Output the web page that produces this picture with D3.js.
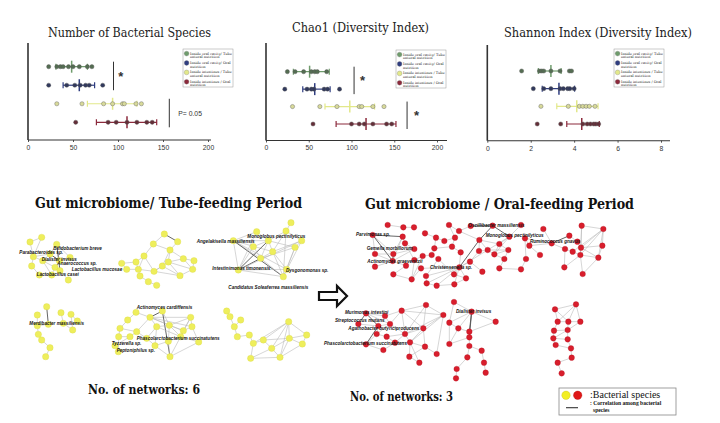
<!DOCTYPE html>
<html><head><meta charset="utf-8">
<script src="https://cdn.jsdelivr.net/npm/d3@7"></script>
<style>body{margin:0;background:#fff}svg{display:block}</style>
</head><body>
<svg id="c" width="720" height="423"></svg>
<script>
// ---------------- DATA ----------------
const groupNames = [
  ["Inside oral cavity/ Tube", "enteral nutrition"],
  ["Inside oral cavity/ Oral", "nutrition"],
  ["Inside intestines / Tube", "enteral nutrition"],
  ["Inside intestines / Oral", "nutrition"]
];
const groupColors = ["#6f9c6c", "#2f3d80", "#e2e88a", "#8c2a3c"];

const panelTitles = ["Number of Bacterial Species", "Chao1 (Diversity Index)", "Shannon Index (Diversity Index)"];
const speciesTicks = [0, 50, 100, 150, 200];
const chaoTicks = [0, 50, 100, 150, 200];
const shannonTicks = [0, 2, 4, 6, 8];

const speciesValues = [
  [23, 32, 36, 39, 45, 50, 57, 66, 71],
  [23, 43, 52, 58, 64, 68, 83],
  [32, 60, 84, 94, 105, 107, 120, 126],
  [53, 89, 98, 110, 121, 132, 138]
];
const speciesMeans = [48.5, 57, 94, 110];
const speciesErr = [[31, 66], [39, 74], [66, 121], [76, 143]];
const speciesSig = [[95, 0, 1, "*", 103], [157, 2, 3, "P= 0.05", 167]];

const chaoValues = [
  [25, 34, 44, 53, 57, 60, 71],
  [22, 48, 53, 56, 68, 72, 86],
  [31, 63, 83, 109, 112, 125, 138],
  [55, 100, 109, 115, 125, 141, 147]
];
const chaoMeans = [51, 57, 98, 117];
const chaoErr = [[32, 74], [43, 75], [69, 127], [82, 152]];
const chaoSig = [[103, 0, 1, "*", 113], [165, 2, 3, "*", 176]];

const shannonValues = [
  [1.58, 2.4, 2.5, 2.6, 2.93, 3.35, 3.78, 3.88],
  [2.12, 2.6, 2.93, 3.35, 3.5, 3.7, 3.8, 4.0],
  [2.47, 3.73, 4.24, 4.4, 4.55, 4.7, 4.96],
  [2.3, 3.38, 4.4, 4.6, 4.75, 4.9, 5.0, 5.13]
];
const shannonMeans = [2.93, 3.3, 4.12, 4.35];
const shannonErr = [[2.35, 3.4], [2.53, 4.02], [3.2, 5.1], [3.66, 5.16]];
const shannonSig = [];

// Network layouts (node positions in layout units), edges [i, j, strong]
const tubeNetworks = [
  { nodes: [[90,186],[125,172],[170,193],[100,230],[95,258],[150,222],[128,242],[178,242],[165,262],[118,285],[205,300],[180,272],[210,232],[155,285]],
    edges: [[0,1],[0,3],[1,3],[3,5],[3,6],[3,4],[5,6],[5,2],[2,7],[6,7],[7,8],[6,8],[8,11],[11,10],[7,12],[4,9],[9,13],[13,8],[5,7,1],[2,12],[6,13],[2,11,1]] },
  { nodes: [[493,162],[533,185],[460,192],[510,210],[432,228],[408,246],[365,250],[380,268],[462,274],[505,246],[550,236],[582,242],[578,268],[540,287],[420,288],[445,305],[470,316],[415,268],[487,258]],
    edges: [[0,1,1],[0,2],[1,3],[2,3],[2,4],[3,9],[3,10],[4,5],[4,8],[5,6],[5,17],[6,7],[7,17],[17,8],[8,9],[8,18],[9,18],[9,10],[10,11],[11,12],[10,12],[12,13],[9,13],[18,13],[14,15],[15,16],[4,17],[3,18],[8,13],[9,12],[17,14]] },
  { nodes: [[873,128],[858,153],[770,155],[700,182],[805,182],[905,182],[885,202],[818,215],[782,235],[715,270],[850,290],[860,268],[760,200]],
    edges: [[0,1],[1,4],[1,5],[2,4],[3,4],[3,8],[3,9],[3,10,1],[3,7],[4,7],[4,8],[4,6],[5,6],[5,7],[5,10],[6,10],[6,11],[7,8],[7,10],[7,11],[8,9,1],[8,10],[9,10],[9,11],[2,3],[4,9,1],[12,8],[12,4],[12,9],[1,7],[6,8],[3,11],[5,9],[2,9],[1,10]] },
  { nodes: [[140,380],[112,405],[183,398],[213,403],[232,423],[112,437],[145,433],[190,430],[218,450],[115,463],[125,480],[150,503],[137,530]],
    edges: [[0,6,1],[1,5],[5,9],[9,10],[10,11],[11,12],[2,7],[3,4],[3,8],[7,8],[6,5]] },
  { nodes: [[408,397],[450,412],[487,393],[572,412],[383,420],[360,445],[356,470],[390,470],[410,455],[470,440],[508,436],[550,452],[576,440],[465,497],[505,484],[542,470],[596,486],[510,530],[355,515],[345,497],[440,475]],
    edges: [[0,4],[0,1],[1,2,1],[1,9],[1,10],[1,3],[2,17,1],[3,12],[3,10],[3,11],[3,15],[4,5],[5,6],[5,8],[6,7],[7,8],[8,1],[8,20],[7,19],[19,18],[18,6],[9,10],[9,20],[9,13],[10,11],[10,14],[11,12],[11,15],[12,16],[13,14],[13,17],[14,15],[14,17],[15,16],[15,17],[16,17],[9,15],[10,15],[1,12],[20,13],[2,10],[1,11]] },
  { nodes: [[680,393],[690,410],[703,440],[722,420],[712,470],[748,465],[760,490],[790,480],[815,505],[840,532],[752,535],[866,425],[868,475],[907,492],[920,465]],
    edges: [[0,1],[1,2],[2,3],[2,4],[4,5],[5,6],[6,7],[6,10],[7,8],[8,9],[10,9],[7,11],[11,8],[11,12],[11,14],[12,13],[12,14],[13,14],[8,12],[9,12],[11,9],[6,11],[10,8],[7,12],[13,9]] }
];
const tubeLabels = [
  ["Bifidobacterium breve", 160, 210], ["Parabacteroides sp.", 58, 223], ["Dialister invisus", 125, 243],
  ["Anaerococcus sp.", 172, 256], ["Lactobacillus mucosae", 215, 274], ["Lactobacillus casei", 110, 288],
  ["Angelakisella massiliensis", 590, 190], ["Monoglobus pectinilyticus", 742, 175], ["Intestinimonas timonensis", 637, 270],
  ["Dysgonomonas sp.", 858, 276], ["Candidatus Soleaferrea massiliensis", 685, 328],
  ["Merdibacter massiliensis", 88, 436], ["Actinomyces cardiffensis", 410, 388],
  ["Phascolarctobacterium succinatutens", 410, 479], ["Tyzzerella sp.", 335, 495], ["Peptoniphilus sp.", 350, 515]
];

const oralNetworks = [
  { nodes: [[173,135],[220,142],[252,142],[128,165],[218,170],[285,160],[318,173],[343,183],[375,173],[357,135],[387,153],[225,190],[135,222],[190,222],[253,207],[313,205],[366,200],[392,217],[135,260],[188,243],[228,257],[253,240],[278,228],[325,237],[273,265],[190,283],[245,298],[288,288],[290,310],[320,317],[373,313],[408,295],[372,283],[388,262],[420,245],[447,213],[473,210],[448,180],[508,192],[535,210],[493,223],[523,237],[457,275],[508,265],[573,268],[588,237],[598,197],[585,175],[640,147],[630,225],[665,190],[718,167],[742,185],[705,207],[728,215],[753,203],[755,137],[820,147],[751,225],[817,197],[805,233],[703,262],[758,282],[488,137],[422,138],[573,135],[538,170],[305,225]],
    edges: [[3,4,1],[3,13],[3,19,1],[4,11],[4,13],[13,19,1],[12,13],[12,19],[11,14],[14,19],[19,20],[18,19],[4,19],[13,14],[3,12],[0,1],[1,2],[5,6],[6,7],[7,8],[8,9],[9,10],[10,64],[64,63,1],[10,37],[8,16],[16,17],[15,16],[15,6],[21,22],[22,67],[67,15],[21,26],[22,26],[23,27],[24,26],[27,28],[28,29],[29,30],[23,32],[32,33],[33,34],[34,35],[35,36],[33,17],[34,42],[36,39],[37,38],[38,39],[37,36],[35,37],[37,63,1],[63,66,1],[66,36],[66,38],[66,40],[40,41],[41,43],[43,44],[39,41],[39,40],[38,40],[45,44],[45,47],[47,46],[46,50],[50,48],[50,51,1],[47,50],[46,49],[50,53],[27,33],[28,33],[24,33],[29,33],[30,33],[31,33],[33,37,1],[33,36],[56,57],[56,58],[57,59],[57,55],[57,60],[57,58],[57,54],[55,58],[58,60],[59,60],[58,62],[54,58],[53,54],[53,61],[55,59],[62,60],[56,55],[61,58],[52,55],[51,52],[60,55],[65,66],[26,25],[20,25],[11,21],[32,31],[30,31],[36,40]] },
  { nodes: [[288,375],[215,392],[165,408],[108,400],[340,405],[85,432],[145,438],[180,432],[280,445],[225,462],[140,462],[170,470],[240,487],[195,488],[108,493],[160,510],[285,500],[320,522],[238,530],[268,548]],
    edges: [[0,1],[0,4],[0,8],[0,9],[1,2],[1,4],[1,8],[1,9],[1,7],[2,3],[3,5,1],[3,6,1],[3,7],[5,6],[6,7],[6,14,1],[6,10],[7,9],[8,9],[8,12],[8,16],[8,4],[9,12],[9,13],[9,11],[10,11],[11,13],[12,13],[12,16],[12,18],[16,17],[17,4],[18,19],[12,19],[13,15],[14,15],[14,10],[16,18],[4,9],[4,12],[7,10],[2,7]] },
  { nodes: [[372,366],[425,395],[358,428],[385,445],[418,455],[418,472],[497,425],[358,492],[418,498],[455,512],[412,532],[462,548],[380,567],[467,578],[378,595]],
    edges: [[0,1],[0,2],[1,2],[1,3],[1,4,1],[1,6],[2,3],[3,4],[4,5],[5,7],[5,8],[7,3],[8,9],[8,10],[9,11],[10,12],[11,13],[12,14],[1,5,1],[6,4],[2,7]] },
  { nodes: [[738,373],[675,388],[683,425],[715,425],[751,425],[672,452],[713,450],[670,475],[713,478],[677,495],[723,505],[725,533],[683,548],[695,580]],
    edges: [[0,1],[0,2],[0,3],[0,4],[1,2],[2,3],[3,4],[2,5],[3,6],[4,6],[5,6],[5,7],[6,8],[7,8],[7,9],[8,10],[9,10],[10,11],[11,12],[12,13],[1,3],[6,7]] }
];
const oralLabels = [
  ["Parvimonas sp.", 78, 168], ["Gemella morbillorum", 110, 211], ["Actinomyces graevenitzii", 112, 248],
  ["Christensenella sp.", 300, 266], ["Oscillibacter massiliensis", 415, 140], ["Monoglobus pectinilyticus", 467, 171],
  ["Ruminococcus gnavus", 600, 190], ["Murimonas intestini", 45, 401], ["Streptococcus mutans", 15, 426],
  ["Agathobacter butyriciproducens", 55, 449], ["Phascolarctobacterium succinatutens", -18, 496], ["Dialister invisus", 378, 398]
];
const networkCounts = ["No. of networks: 6", "No. of networks: 3"];
const sectionTitles = ["Gut microbiome/ Tube-feeding Period", "Gut microbiome / Oral-feeding Period"];

// ---------------- DRAW ----------------
const svg = d3.select("#c");
svg.append("rect").attr("width", 720).attr("height", 423).attr("fill", "#fff");
const serif = "'DejaVu Serif', 'Liberation Serif', serif";
const sans = "'Liberation Sans', Arial, sans-serif";

function dotPanel(cfg, title, values, means, errs, ticks, sig) {
  const g = svg.append("g");
  const x = d3.scaleLinear().domain([ticks[0], ticks[ticks.length - 1]]).range([cfg.x0, cfg.x1]);
  const y = d3.scalePoint().domain(d3.range(values.length)).range([cfg.r0, cfg.r1]);
  g.append("text").attr("x", cfg.tx).attr("y", cfg.ty).attr("text-anchor", "middle")
    .attr("font-family", serif).attr("font-size", 12.5).attr("fill", "#222")
    .attr("textLength", cfg.tw).attr("lengthAdjust", "spacingAndGlyphs").text(title);
  const ax = g.append("g").attr("transform", `translate(0,${cfg.axisY})`)
    .call(d3.axisBottom(x).tickValues(ticks).tickSize(2).tickPadding(3));
  ax.select(".domain").remove();
  ax.selectAll(".tick line").attr("stroke", "#555");
  ax.selectAll(".tick text").attr("font-family", sans).attr("font-size", 6.8).attr("fill", "#333");
  g.append("line").attr("x1", cfg.x0).attr("x2", cfg.axisEnd).attr("y1", cfg.axisY).attr("y2", cfg.axisY)
    .attr("stroke", "#333").attr("stroke-width", 1.1);
  g.append("line").attr("x1", cfg.x0).attr("x2", cfg.x0).attr("y1", cfg.yTop).attr("y2", cfg.axisY)
    .attr("stroke", "#333").attr("stroke-width", 1.6);
  values.forEach((vals, i) => {
    const c = groupColors[i], yy = y(i);
    const gg = g.append("g");
    gg.append("line").attr("x1", x(errs[i][0])).attr("x2", x(errs[i][1])).attr("y1", yy).attr("y2", yy)
      .attr("stroke", c).attr("stroke-width", 1.2);
    errs[i].forEach(e => gg.append("line").attr("x1", x(e)).attr("x2", x(e)).attr("y1", yy - 3).attr("y2", yy + 3)
      .attr("stroke", c).attr("stroke-width", 1.2));
    gg.append("line").attr("x1", x(means[i])).attr("x2", x(means[i])).attr("y1", yy - 6).attr("y2", yy + 6)
      .attr("stroke", c).attr("stroke-width", 1.5);
    const dotFill = i === 2 ? "#d8da9a" : d3.interpolateRgb(c, "#333")(0.45);
    gg.selectAll("circle").data(vals).join("circle")
      .attr("cx", d => x(d)).attr("cy", yy).attr("r", 2.1)
      .attr("fill", dotFill).attr("stroke", "#555").attr("stroke-width", 0.4);
  });
  sig.forEach(s => {
    const y1 = y(s[1]) - 5, y2 = y(s[2]) + 5;
    g.append("line").attr("x1", x(s[0])).attr("x2", x(s[0])).attr("y1", y1).attr("y2", y2)
      .attr("stroke", "#333").attr("stroke-width", 1);
    if (s[3] === "*") {
      g.append("text").attr("x", x(s[4])).attr("y", (y1 + y2) / 2 + 5).attr("text-anchor", "middle")
        .attr("font-family", sans).attr("font-weight", "bold").attr("font-size", 13).attr("fill", "#333").text("*");
    } else {
      g.append("text").attr("x", x(s[4])).attr("y", (y1 + y2) / 2 + 2.5)
        .attr("font-family", sans).attr("font-size", 6.8).attr("fill", "#333").text(s[3]);
    }
  });
  const lg = g.append("g").attr("transform", `translate(${cfg.lx},${cfg.ly})`);
  lg.append("rect").attr("width", 50).attr("height", 38).attr("fill", "#fff").attr("stroke", "#999").attr("stroke-width", 0.5);
  groupNames.forEach((nm, i) => {
    const yy = 4.6 + i * 9.4;
    lg.append("circle").attr("cx", 3.6).attr("cy", yy).attr("r", 2.4).attr("fill", groupColors[i]).attr("stroke", "#777").attr("stroke-width", 0.3);
    nm.forEach((t, k) => lg.append("text").attr("x", 7).attr("y", yy + 1 + k * 3.6)
      .attr("font-family", serif).attr("font-size", 3.5).attr("fill", "#222").text(t));
  });
}

dotPanel({x0: 28, x1: 208, axisEnd: 211, axisY: 140, yTop: 43, r0: 66.7, r1: 122.3, tx: 129.5, ty: 36.5, tw: 163, lx: 183, ly: 49},
  panelTitles[0], speciesValues, speciesMeans, speciesErr, speciesTicks, speciesSig);
dotPanel({x0: 266, x1: 437, axisEnd: 447, axisY: 140.5, yTop: 43, r0: 71.7, r1: 124, tx: 360.5, ty: 32, tw: 137, lx: 396, ly: 50},
  panelTitles[1], chaoValues, chaoMeans, chaoErr, chaoTicks, chaoSig);
dotPanel({x0: 487.3, x1: 661, axisEnd: 670, axisY: 140.7, yTop: 45, r0: 71, r1: 124, tx: 598, ty: 36.5, tw: 188, lx: 614, ly: 49},
  panelTitles[2], shannonValues, shannonMeans, shannonErr, shannonTicks, shannonSig);

function drawNetworks(nets, labels, xs, ys, fill, stroke, r) {
  const g = svg.append("g");
  nets.forEach(net => {
    g.append("g").selectAll("line").data(net.edges).join("line")
      .attr("x1", e => xs(net.nodes[e[0]][0])).attr("y1", e => ys(net.nodes[e[0]][1]))
      .attr("x2", e => xs(net.nodes[e[1]][0])).attr("y2", e => ys(net.nodes[e[1]][1]))
      .attr("stroke", e => e[2] ? "#555" : "#b4b4b4").attr("stroke-width", e => e[2] ? 0.9 : 0.55);
  });
  nets.forEach(net => {
    g.append("g").selectAll("circle").data(net.nodes).join("circle")
      .attr("cx", d => xs(d[0])).attr("cy", d => ys(d[1])).attr("r", r)
      .attr("fill", fill).attr("stroke", stroke).attr("stroke-width", 0.3);
  });
  g.append("g").selectAll("text").data(labels).join("text")
    .attr("x", d => xs(d[1])).attr("y", d => ys(d[2]))
    .attr("font-family", sans).attr("font-size", 4.6).attr("font-weight", "bold").attr("font-style", "italic")
    .attr("fill", "#151515").text(d => d[0]);
}
const xL = d3.scaleLinear().domain([0, 1080]).range([0, 360]);
const xR = d3.scaleLinear().domain([0, 1170]).range([330, 720]);
const yN = d3.scaleLinear().domain([0, 600]).range([180, 380]);
drawNetworks(tubeNetworks, tubeLabels, xL, yN, "#eeee5c", "#d6d640", 3.2);
drawNetworks(oralNetworks, oralLabels, xR, yN, "#d81e2c", "#b01020", 2.8);

svg.append("text").attr("x", 35).attr("y", 208).attr("font-family", serif).attr("font-weight", "bold")
  .attr("font-size", 15.5).attr("fill", "#111").attr("textLength", 267).attr("lengthAdjust", "spacingAndGlyphs").text(sectionTitles[0]);
svg.append("text").attr("x", 365).attr("y", 209).attr("font-family", serif).attr("font-weight", "bold")
  .attr("font-size", 15.5).attr("fill", "#111").attr("textLength", 269).attr("lengthAdjust", "spacingAndGlyphs").text(sectionTitles[1]);
svg.append("path").attr("d", "M319,292H337V286L347,296L337,306V300H319Z")
  .attr("fill", "#fff").attr("stroke", "#111").attr("stroke-width", 2.2).attr("stroke-linejoin", "miter");
svg.append("text").attr("x", 88).attr("y", 394).attr("font-family", serif).attr("font-weight", "bold")
  .attr("font-size", 12).attr("fill", "#111").attr("textLength", 112).attr("lengthAdjust", "spacingAndGlyphs").text(networkCounts[0]);
svg.append("text").attr("x", 350).attr("y", 401).attr("font-family", serif).attr("font-weight", "bold")
  .attr("font-size", 12).attr("fill", "#111").attr("textLength", 103).attr("lengthAdjust", "spacingAndGlyphs").text(networkCounts[1]);
const bl = svg.append("g").attr("transform", "translate(559,388)");
bl.append("rect").attr("width", 117).attr("height", 27).attr("fill", "#fff").attr("stroke", "#888").attr("stroke-width", 0.8);
bl.append("circle").attr("cx", 7).attr("cy", 7.3).attr("r", 4.2).attr("fill", "#f2ee22").attr("stroke", "#c8c020").attr("stroke-width", 0.4);
bl.append("circle").attr("cx", 18.7).attr("cy", 7.3).attr("r", 4.2).attr("fill", "#e01818").attr("stroke", "#b01010").attr("stroke-width", 0.4);
bl.append("text").attr("x", 31).attr("y", 10).attr("font-family", "'Liberation Serif', serif").attr("font-size", 10).attr("fill", "#111").text(":Bacterial species");
bl.append("line").attr("x1", 7).attr("x2", 19).attr("y1", 19.7).attr("y2", 19.7).attr("stroke", "#333").attr("stroke-width", 1.1);
bl.append("text").attr("x", 31).attr("y", 16.5).attr("font-family", "'Liberation Serif', serif").attr("font-weight", "bold").attr("font-size", 5.6).attr("fill", "#111").text(": Correlation among bacterial");
bl.append("text").attr("x", 34).attr("y", 23.5).attr("font-family", "'Liberation Serif', serif").attr("font-weight", "bold").attr("font-size", 5.6).attr("fill", "#111").text("species");
</script>
</body></html>
